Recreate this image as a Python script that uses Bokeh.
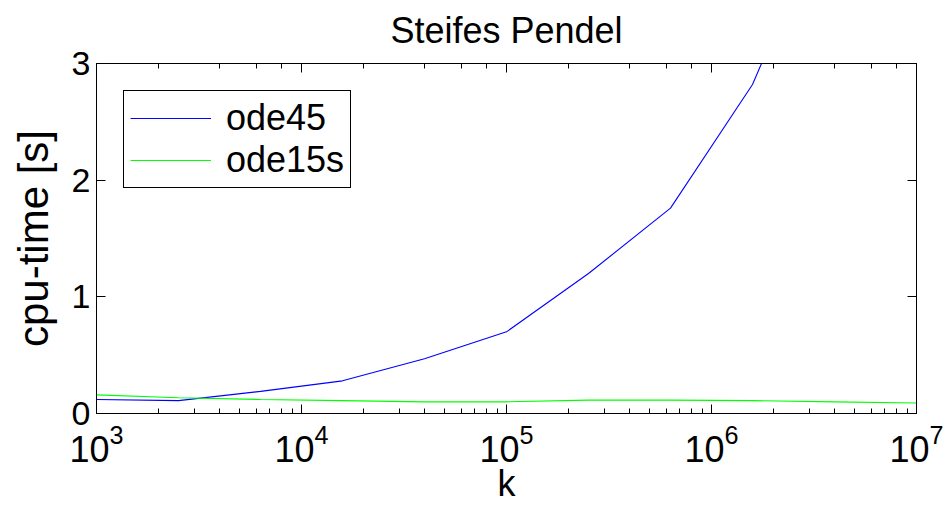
from bokeh.plotting import figure
from bokeh.models import LinearAxis, LogAxis, FixedTicker, Legend, LegendItem, Range1d
from bokeh.embed import file_html
from bokeh.resources import INLINE

# data
k_values = [1e3, 2.512e3, 6.31e3, 1.585e4, 3.981e4, 1e5, 2.512e5, 6.31e5, 1.585e6, 3.981e6, 1e7]
ode45_time = [0.12, 0.11, 0.19, 0.28, 0.47, 0.70, 1.20, 1.76, 2.82, 4.46, 7.2]
ode15s_time = [0.16, 0.135, 0.12, 0.11, 0.10, 0.10, 0.115, 0.115, 0.11, 0.10, 0.09]
y_ticks = [0, 1, 2, 3]
title_text = "Steifes Pendel"
x_label = "k"
y_label = "cpu-time [s]"

FONT = "Liberation Sans"

p = figure(width=951, height=512, x_axis_type="log",
           x_range=Range1d(1e3, 1e7), y_range=Range1d(0, 3),
           output_backend="svg", toolbar_location=None,
           min_border_left=96, min_border_right=35, min_border_top=63, min_border_bottom=99)

p.grid.visible = False
p.outline_line_color = "black"
p.outline_line_width = 1
p.outline_line_alpha = 1
p.background_fill_color = "white"
p.border_fill_color = "white"

def style_axis(ax, show_labels):
    ax.axis_line_color = "black"
    ax.major_tick_in = 9
    ax.major_tick_out = 0
    ax.minor_tick_in = 5
    ax.minor_tick_out = 0
    ax.major_tick_line_color = "black"
    ax.minor_tick_line_color = "black"
    ax.major_label_text_font = FONT
    if show_labels:
        ax.major_label_text_font_size = "34px"
        ax.major_label_text_color = "black"
    else:
        ax.major_label_text_color = None
        ax.major_label_text_font_size = "0px"
    ax.axis_label_text_font = FONT
    ax.axis_label_text_font_style = "normal"
    ax.axis_label_text_color = "black"

xa = p.xaxis[0]
style_axis(xa, True)
xa.major_label_text_font_size = "36px"
xa.major_label_standoff = 10
xa.axis_label = x_label
xa.axis_label_text_font_size = "36px"
xa.axis_label_text_line_height = 1.0
xa.axis_label_standoff = -2

ya = p.yaxis[0]
ya.ticker = FixedTicker(ticks=y_ticks)
style_axis(ya, True)
ya.minor_tick_in = 0
ya.major_label_standoff = 6
ya.axis_label = y_label
ya.axis_label_text_font_size = "42px"
ya.axis_label_standoff = 12

# top axis carries the title text, centred over the plot area
top = LogAxis()
style_axis(top, False)
top.axis_label = title_text
top.axis_label_text_font_size = "36px"
top.axis_label_standoff = 13
p.add_layout(top, "above")

right = LinearAxis(ticker=FixedTicker(ticks=y_ticks))
style_axis(right, False)
right.minor_tick_in = 0
p.add_layout(right, "right")

r1 = p.line(k_values, ode45_time, line_color="#0000ff", line_width=1.1)
r2 = p.line(k_values, ode15s_time, line_color="#00ff00", line_width=1.1)

legend = Legend(items=[LegendItem(label="ode45", renderers=[r1]),
                       LegendItem(label="ode15s", renderers=[r2])],
                location="top_left")
legend.margin = 27
legend.padding = 6
legend.spacing = 0
legend.glyph_width = 81
legend.glyph_height = 34
legend.label_height = 34
legend.label_standoff = 15
legend.label_text_font = FONT
legend.label_text_font_size = "36px"
legend.label_text_line_height = 1.0
legend.label_text_color = "black"
legend.border_line_color = "black"
legend.border_line_alpha = 1
legend.border_line_width = 1
legend.background_fill_alpha = 1
p.add_layout(legend, "center")

open("out.html", "w").write(file_html(p, INLINE))
